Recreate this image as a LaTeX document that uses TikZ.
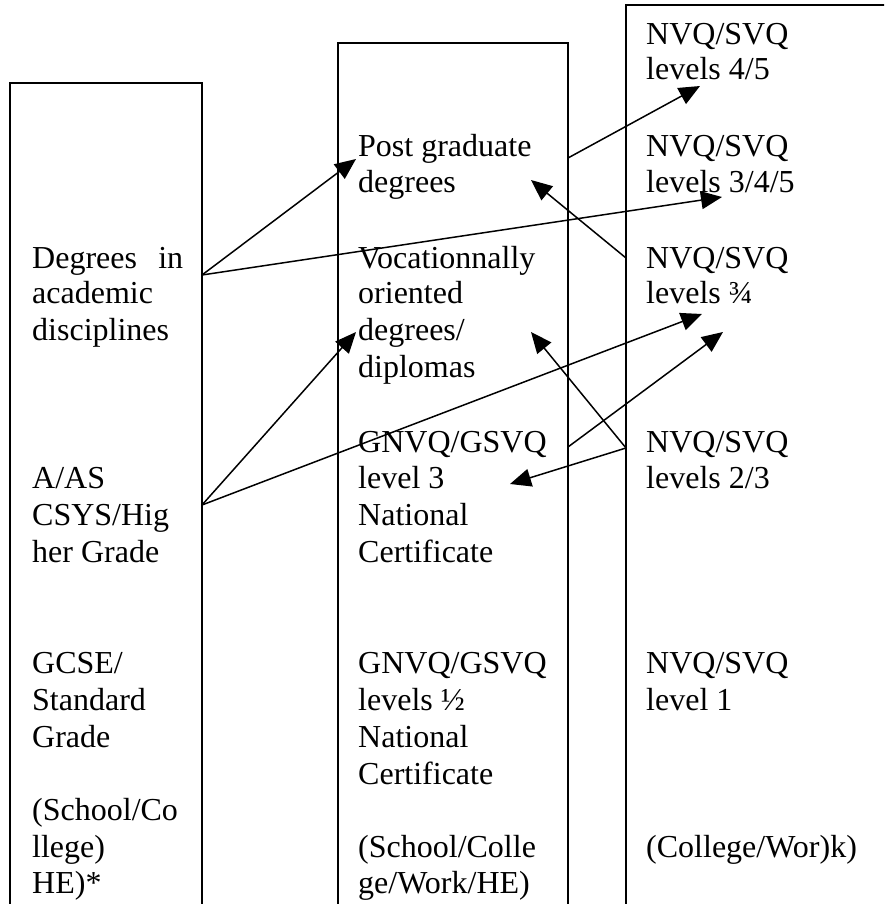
\documentclass[tikz,border=0pt]{standalone}
\usepackage{fontspec}
\setmainfont{Liberation Serif}
\usetikzlibrary{arrows.meta}
\begin{document}
\begin{tikzpicture}[x=1pt,y=-1pt,
  txt/.style={anchor=base west,inner sep=0pt,font=\fontsize{32}{36}\selectfont},
  colbox/.style={line width=1.6pt},
  arr/.style={line width=1.5pt,-{Triangle[length=21pt,width=18pt]}}]
\useasboundingbox (0,0) rectangle (884,904);
\clip (0,0) rectangle (884,904);
% column boxes (open at the bottom / right)
\draw[colbox] (10,915) -- (10,83) -- (202,83) -- (202,915);
\draw[colbox] (338,915) -- (338,43) -- (568,43) -- (568,915);
\draw[colbox] (626,915) -- (626,5) -- (895,5);
% left column
\node[txt] (l1a) at (32,268) {\makebox[151pt][s]{Degrees in}};
\node[txt] (l1b) at (32,303) {academic};
\node[txt] (l1c) at (32,340) {disciplines};
\node[txt] (l2a) at (32,488) {A/AS};
\node[txt] (l2b) at (32,525) {CSYS/Hig};
\node[txt] (l2c) at (32,562) {her Grade};
\node[txt] (l3a) at (32,673) {GCSE/};
\node[txt] (l3b) at (32,710) {Standard};
\node[txt] (l3c) at (32,747) {Grade};
\node[txt] (l4a) at (32,820) {(School/Co};
\node[txt] (l4b) at (32,857) {llege)};
\node[txt] (l4c) at (32,893) {HE)*};
% middle column
\node[txt] (m1a) at (358,157) {Post graduate};
\node[txt] (m1b) at (358,193) {degrees};
\node[txt] (m2a) at (358,268) {Vocationnally};
\node[txt] (m2b) at (358,303) {oriented};
\node[txt] (m2c) at (358,340) {degrees/};
\node[txt] (m2d) at (358,377) {diplomas};
\node[txt] (m3a) at (358,452) {GNVQ/GSVQ};
\node[txt] (m3b) at (358,488) {level 3};
\node[txt] (m3c) at (358,525) {National};
\node[txt] (m3d) at (358,562) {Certificate};
\node[txt] (m4a) at (358,673) {GNVQ/GSVQ};
\node[txt] (m4b) at (358,710) {levels ½};
\node[txt] (m4c) at (358,747) {National};
\node[txt] (m4d) at (358,784) {Certificate};
\node[txt] (m5a) at (358,857) {(School/Colle};
\node[txt] (m5b) at (358,893) {ge/Work/HE)};
% right column
\node[txt] (r1a) at (646,45) {NVQ/SVQ};
\node[txt] (r1b) at (646,80) {levels 4/5};
\node[txt] (r2a) at (646,157) {NVQ/SVQ};
\node[txt] (r2b) at (646,193) {levels 3/4/5};
\node[txt] (r3a) at (646,268) {NVQ/SVQ};
\node[txt] (r3b) at (646,303) {levels ¾};
\node[txt] (r4a) at (646,452) {NVQ/SVQ};
\node[txt] (r4b) at (646,488) {levels 2/3};
\node[txt] (r5a) at (646,673) {NVQ/SVQ};
\node[txt] (r5b) at (646,710) {level 1};
\node[txt] (r6a) at (646,857) {(College/Wor)k)};
% arrow end points
\coordinate (degR) at (202,275);
\coordinate (aasR) at (202,505);
\coordinate (pgR) at (568,158);
\coordinate (gnR) at (568,447);
\coordinate (n34L) at (626,258);
\coordinate (n23L) at (626,448);
\coordinate (pgTip) at (356,159);
\coordinate (n45Tip) at (700,86);
\coordinate (n345Tip) at (722,197);
\coordinate (pgTipR) at (531,180);
\coordinate (vodTip) at (356,332);
\coordinate (n34Tip) at (702,314);
\coordinate (n34TipB) at (723,332);
\coordinate (vodTipR) at (531,332);
\coordinate (l3Tip) at (510,484);
% arrows
\draw[arr] (degR) -- (pgTip);
\draw[arr] (degR) -- (n345Tip);
\draw[arr] (pgR) -- (n45Tip);
\draw[arr] (n34L) -- (pgTipR);
\draw[arr] (aasR) -- (vodTip);
\draw[arr] (aasR) -- (n34Tip);
\draw[arr] (gnR) -- (n34TipB);
\draw[arr] (n23L) -- (vodTipR);
\draw[arr] (n23L) -- (l3Tip);
\end{tikzpicture}
\end{document}
